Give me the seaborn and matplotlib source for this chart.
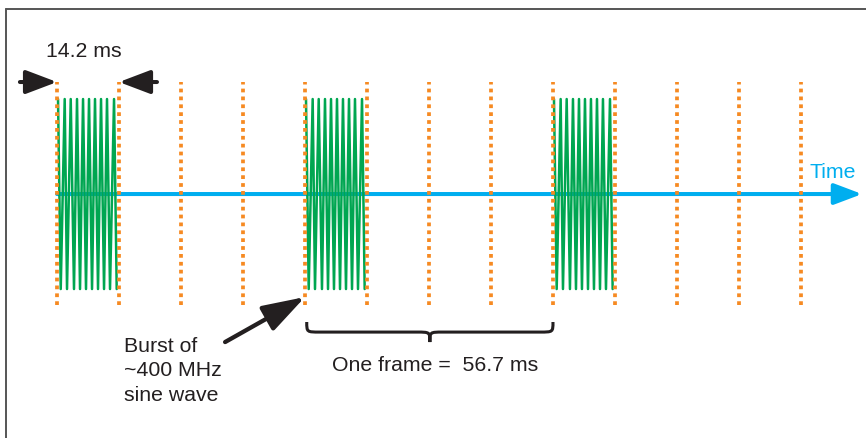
import numpy as np
import pandas as pd
import matplotlib
matplotlib.use("Agg")
import matplotlib.pyplot as plt
import seaborn as sns
from matplotlib.path import Path
from matplotlib.patches import PathPatch
from matplotlib.lines import Line2D

# time slots (ms) and bursts
slot_ms = 14.2
frame_ms = 56.7
slot_edges = [0.0, 14.2, 28.4, 42.6, 56.8, 71.0, 85.2, 99.4, 113.6, 127.8, 142.0, 156.2, 170.4]
burst_starts = [0.0, 56.8, 113.6]

# zigzag vertices of one burst (offset in ms, amplitude)
wave_t = [0.23, 0.85, 1.76, 2.29, 3.14, 3.89, 4.58, 5.27, 5.96, 6.64,
          7.33, 8.02, 8.70, 9.39, 10.08, 10.77, 11.45, 12.14, 13.06, 13.67]
wave_v = [1, -1, 1, -1, 1, -1, 1, -1, 1, -1,
          1, -1, 1, -1, 1, -1, 1, -1, 1, -1]

GREEN = "#00A651"
ORANGE = "#F68A22"
BLUE = "#00AEEF"
INK = "#231F20"

sns.set_theme(style="white")
plt.rcParams["font.family"] = ["Liberation Sans", "DejaVu Sans"]

rows = []
for i, s in enumerate(burst_starts):
    for t, v in zip(wave_t, wave_v):
        rows.append({"burst": i, "t": s + t, "v": v})
df = pd.DataFrame(rows)

fig = plt.figure(figsize=(8.66, 4.39), dpi=100)
ax = fig.add_axes([0, 0, 1, 1])
ax.set_xlim(-13.06, 185.3)
ax.set_ylim(-2.568, 2.053)
ax.axis("off")

# time axis
ax.annotate("", xy=(184.4, 0), xytext=(0, 0),
            arrowprops=dict(arrowstyle="-|>,head_length=0.85,head_width=0.32",
                            color=BLUE, lw=2.9, shrinkA=0, shrinkB=0,
                            mutation_scale=20), zorder=1)
ax.text(177.7, 0.24, "Time", color=BLUE, fontsize=15.3, ha="center", va="center")

sns.lineplot(data=df, x="t", y="v", units="burst", estimator=None, sort=False,
             color=GREEN, lw=1.8, ax=ax, legend=False, zorder=2)
ax.set_xlabel(""); ax.set_ylabel("")

ax.vlines(slot_edges, -1.17, 1.18, colors=ORANGE, linestyles=[(0, (1, 1.1))],
          lw=2.7, zorder=3, capstyle="butt")

# slot width marker
arrow_kw = dict(arrowstyle="-|>,head_length=0.95,head_width=0.36", color=INK,
                lw=2.9, shrinkA=0, shrinkB=0, mutation_scale=20)
ax.annotate("", xy=(0, 1.179), xytext=(-8.5, 1.179), arrowprops=arrow_kw)
ax.annotate("", xy=(14.2, 1.179), xytext=(22.9, 1.179), arrowprops=arrow_kw)
ax.text(6.2, 1.516, f"{slot_ms} ms", color=INK, fontsize=15.3, ha="center", va="center")

# burst label
ax.annotate("", xy=(56.8, -1.084), xytext=(38.5, -1.558),
            arrowprops=dict(arrowstyle="-|>,head_length=1.3,head_width=0.42",
                            color=INK, lw=3.1, shrinkA=0, shrinkB=0,
                            mutation_scale=20))
ax.text(15.35, -1.85, "Burst of\n~400 MHz\nsine wave", color=INK, fontsize=15.3,
        ha="left", va="center", linespacing=1.38)

# frame brace
x0, x1 = 57.2, 113.6
xm = (x0 + x1) / 2
yt, yh, ytip = -1.347, -1.453, -1.558
r = 3.0
verts = [(x0, yt), (x0, yh), (x0, yh), (x0 + r, yh),
         (xm - r, yh), (xm, yh), (xm, yh), (xm, ytip),
         (xm, yh), (xm, yh), (xm + r, yh),
         (x1 - r, yh), (x1, yh), (x1, yh), (x1, yt)]
codes = [Path.MOVETO, Path.CURVE4, Path.CURVE4, Path.CURVE4,
         Path.LINETO, Path.CURVE4, Path.CURVE4, Path.CURVE4,
         Path.CURVE4, Path.CURVE4, Path.CURVE4,
         Path.LINETO, Path.CURVE4, Path.CURVE4, Path.CURVE4]
ax.add_patch(PathPatch(Path(verts, codes), fill=False, ec=INK, lw=2.2))
ax.text(86.6, -1.79, f"One frame =  {frame_ms} ms", color=INK, fontsize=15.3,
        ha="center", va="center")

# panel border (top and left edges)
fig.add_artist(Line2D([6 / 866, 1], [1 - 10 / 439, 1 - 10 / 439], color="#555555", lw=1.4))
fig.add_artist(Line2D([6 / 866, 6 / 866], [0, 1 - 10 / 439], color="#555555", lw=1.4))

fig.savefig("out.png", dpi=100, facecolor="white")
